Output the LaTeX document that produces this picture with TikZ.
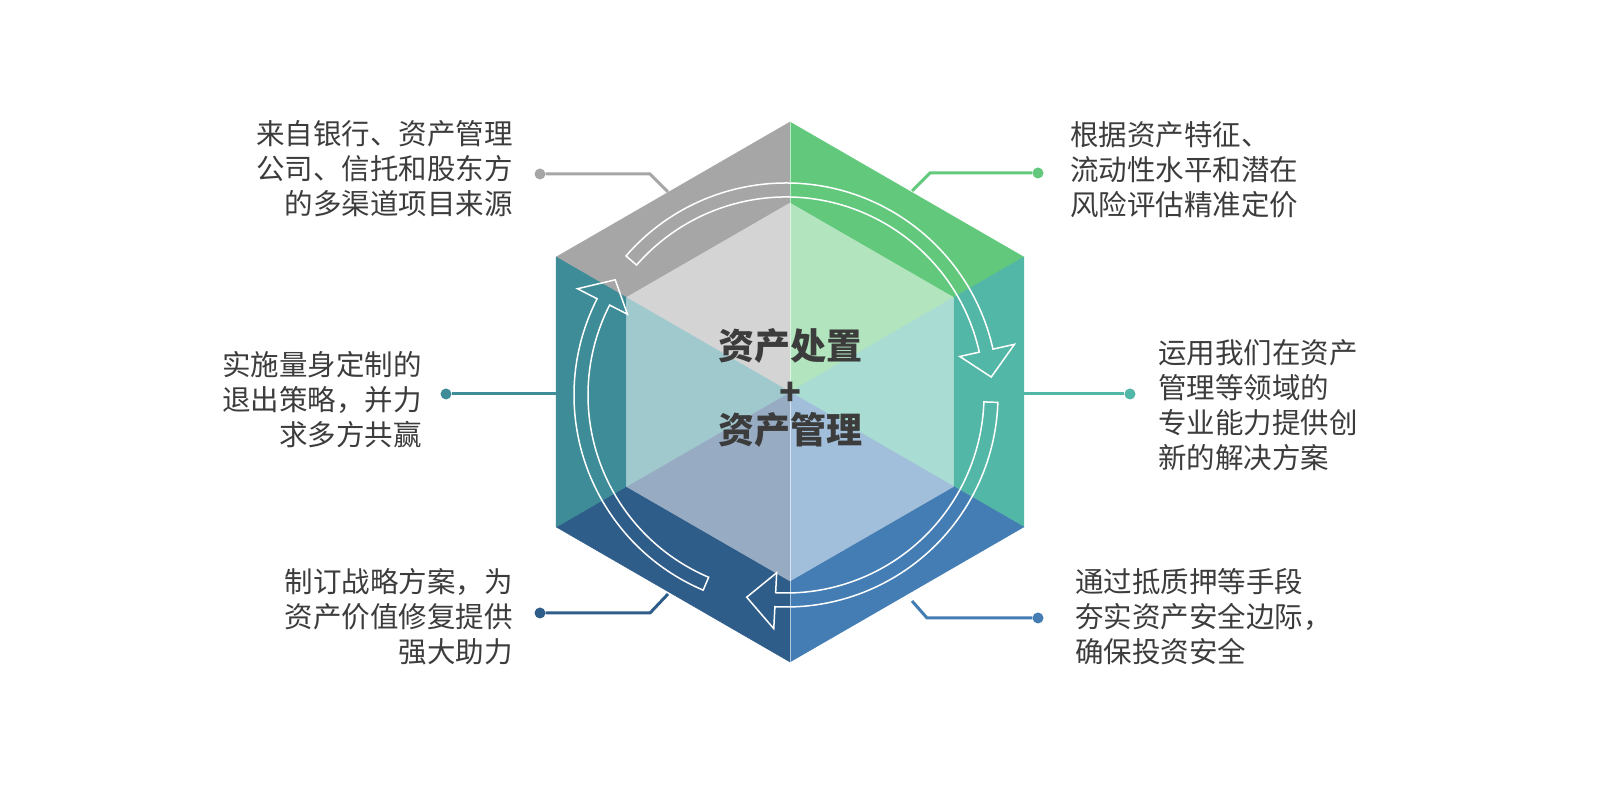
\documentclass[tikz,border=0pt]{standalone}
\usepackage{fontspec}
\setmainfont{Noto Sans CJK SC}
\usepackage{tikz}

\definecolor{ink}{HTML}{3C3C3C}
\definecolor{bGray}{HTML}{A6A6A6}
\definecolor{bGreen}{HTML}{62C97C}
\definecolor{bTeal}{HTML}{52B7A6}
\definecolor{bBlue}{HTML}{437DB3}
\definecolor{bNavy}{HTML}{2F5D8A}
\definecolor{bDeep}{HTML}{3D8C98}
\definecolor{iGray}{HTML}{D4D4D4}
\definecolor{iGreen}{HTML}{B2E4BE}
\definecolor{iTeal}{HTML}{A9DCD3}
\definecolor{iBlue}{HTML}{A1BEDA}
\definecolor{iNavy}{HTML}{97ACC2}
\definecolor{iDeep}{HTML}{A0C9CE}

\begin{document}
\begin{tikzpicture}[x=1pt,y=1pt,
		note/.style={font=\fontsize{28.5}{35}\selectfont,text=ink,inner sep=0pt},
		dot/.style={circle,inner sep=0pt,minimum size=11pt},
		link/.style={line width=3pt},
		ring arrow/.style={draw=white,line width=1.5pt}]

	\useasboundingbox (0,0) rectangle (1600,791);

	\node[note,align=right,anchor=east] (src) at (513,622) {来自银行、资产管理\\公司、信托和股东方\\的多渠道项目来源};
	\node[note,align=right,anchor=east] (exit) at (422,391) {实施量身定制的\\退出策略，并力\\求多方共赢};
	\node[note,align=right,anchor=east] (plan) at (513,174) {制订战略方案，为\\资产价值修复提供\\强大助力};
	\node[note,align=left,anchor=west] (price) at (1070,621) {根据资产特征、\\流动性水平和潜在\\风险评估精准定价};
	\node[note,align=left,anchor=west] (skill) at (1158,386) {运用我们在资产\\管理等领域的\\专业能力提供创\\新的解决方案};
	\node[note,align=left,anchor=west] (safe) at (1075,174) {通过抵质押等手段\\夯实资产安全边际，\\确保投资安全};

	\node[dot,fill=bGray] (srcDot) at (540,617) {};
	\node[dot,fill=bDeep] (exitDot) at (446,397) {};
	\node[dot,fill=bNavy] (planDot) at (540,178) {};
	\node[dot,fill=bGreen] (priceDot) at (1038,618) {};
	\node[dot,fill=bTeal] (skillDot) at (1130,397) {};
	\node[dot,fill=bBlue] (safeDot) at (1038,173) {};

	\coordinate (srcEnd) at (668,599);
	\coordinate (exitEnd) at (570,397);
	\coordinate (planEnd) at (668,197);
	\coordinate (priceEnd) at (912,600);
	\coordinate (skillEnd) at (1010,397);
	\coordinate (safeEnd) at (912,190);

	\draw[link,bGray] (srcDot) -- (650,617) -- (srcEnd);
	\draw[link,bDeep] (exitDot) -- (exitEnd);
	\draw[link,bNavy] (planDot) -- (650,178) -- (planEnd);
	\draw[link,bGreen] (priceDot) -- (930,618) -- (priceEnd);
	\draw[link,bTeal] (skillDot) -- (skillEnd);
	\draw[link,bBlue] (safeDot) -- (927,173) -- (safeEnd);

	\begin{scope}[shift={(790,399)}]
		\coordinate (C) at (0,0);
		\foreach \a in {30,90,...,330} {
			\coordinate (O\a) at (\a:270pt);
			\coordinate (I\a) at (\a:189pt);
		}
		\foreach \p/\q/\c/\d in {90/150/bGray/iGray,30/90/bGreen/iGreen,330/30/bTeal/iTeal,
				270/330/bBlue/iBlue,210/270/bNavy/iNavy,150/210/bDeep/iDeep} {
			\filldraw[fill=\c,draw=\c,line width=0.4pt] (O\p) -- (O\q) -- (I\q) -- (I\p) -- cycle;
			\filldraw[fill=\d,draw=\d,line width=0.4pt] (C) -- (I\p) -- (I\q) -- cycle;
		}
		\draw[white,opacity=0.6,line width=1pt] (O90) -- (O270);
	\end{scope}

	\begin{scope}[shift={(786,396)}]
		\foreach \s/\e/\t in {139/12.5/5,-2/-93/-101,247/153/146}
			\draw[ring arrow] (\s:212pt) arc[start angle=\s,end angle=\e,radius=212pt]
				-- (\e:234pt) -- (\t:206pt) -- (\e:178pt) -- (\e:198pt)
				arc[start angle=\e,end angle=\s,radius=198pt] -- cycle;
	\end{scope}

	\node[font=\bfseries\fontsize{36}{42}\selectfont,text=ink,align=center,inner sep=0pt] (core) at (790,403) {资产处置\\\raisebox{-4pt}{+}\\资产管理};
\end{tikzpicture}
\end{document}
